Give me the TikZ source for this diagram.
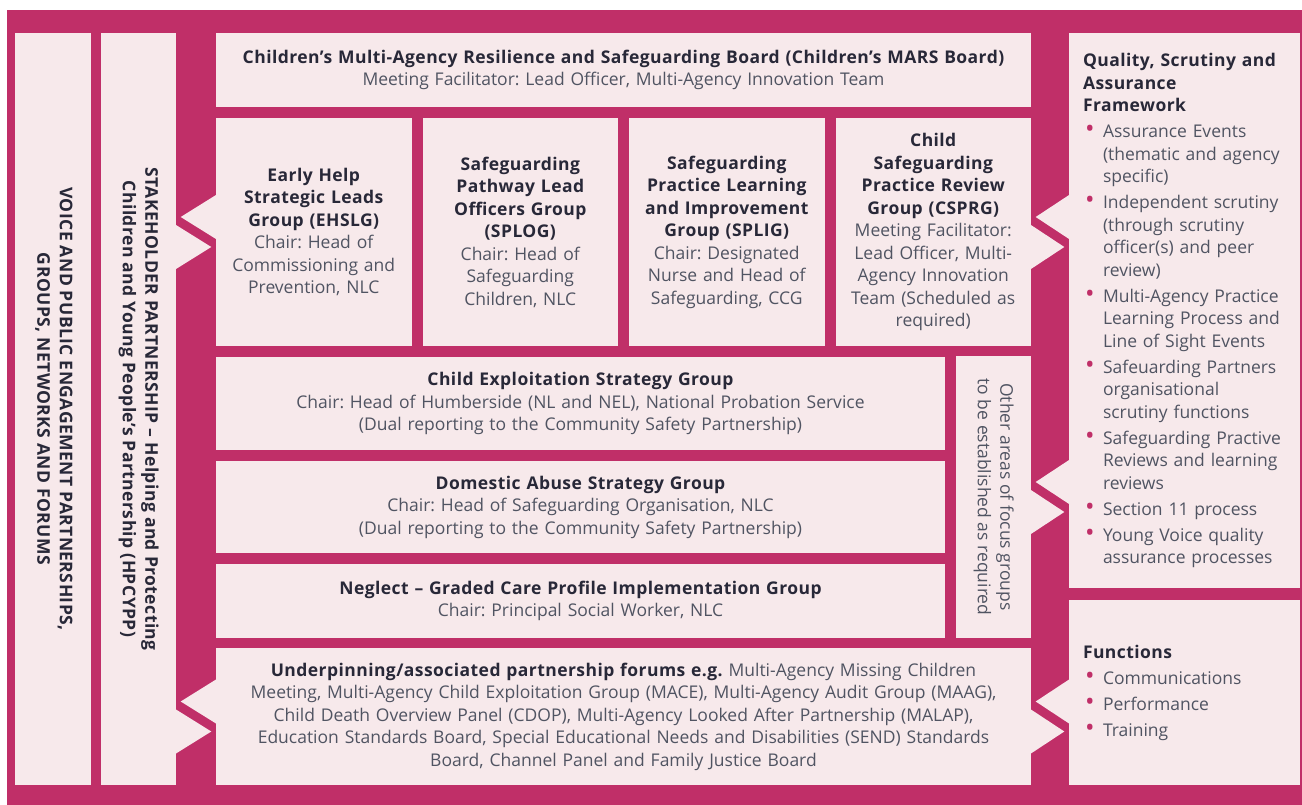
\documentclass[tikz,border=0pt]{standalone}
\usepackage{fontspec}
\setmainfont{Open Sans}[BoldFeatures={LetterSpace=2.5}]
\usepackage{graphicx}
\usetikzlibrary{calc}
\setlength\parindent{0pt}
\frenchspacing
\definecolor{mars}{RGB}{192,47,104}
\definecolor{boxfill}{RGB}{247,233,235}
\definecolor{txtdark}{RGB}{40,40,56}
\definecolor{txtgrey}{RGB}{80,84,98}
\newcommand\hd[1]{{\bfseries\color{txtdark}#1}}
\newcommand\qitem{\par\vspace{3.5pt}\hangindent=20pt\hangafter=1\noindent\makebox[20pt][l]{\hspace{2pt}\textcolor{mars}{\scalebox{1.45}{\textbullet}}}}
\newcommand\tabpair[3]{%
\fill[boxfill] ($(#2.west |- #3.center)+(1,-37.5)$) -- ($(#1.east |- #3.center)+(4.5,-15)$) -- ($(#2.west |- #3.center)+(1,7.5)$) -- cycle;
\fill[boxfill] ($(#1.east |- #3.center)+(-1,-7.5)$) -- ($(#2.west |- #3.center)+(-4.5,15)$) -- ($(#1.east |- #3.center)+(-1,37.5)$) -- cycle;}
\tikzset{box/.style={fill=boxfill, inner sep=0pt, text=txtgrey, align=center, font=\fontsize{17.5}{22.5}\selectfont}}
\begin{document}
\begin{tikzpicture}[x=1pt, y=-1pt]
\useasboundingbox (0,0) rectangle (1302,805);
\fill[mars] (7,10) rectangle (1302,805);
\node[box, minimum width=76pt, minimum height=752pt] (voice) at (53,409) {\rotatebox{-90}{\bfseries\color{txtdark}\begin{tabular}{@{}c@{}}VOICE AND PUBLIC ENGAGEMENT PARTNERSHIPS,\\GROUPS, NETWORKS AND FORUMS\end{tabular}}};
\node[box, minimum width=75pt, minimum height=752pt] (stake) at (138.5,409) {\rotatebox{-90}{\bfseries\color{txtdark}\begin{tabular}{@{}c@{}}STAKEHOLDER PARTNERSHIP – Helping and Protecting\\Children and Young People’s Partnership (HPCYPP)\end{tabular}}};
\node[box, text width=815pt, minimum height=74pt] (mars) at (623.5,70) {\hd{Children’s Multi-Agency Resilience and Safeguarding Board (Children’s MARS Board)}\\Meeting Facilitator: Lead Officer, Multi-Agency Innovation Team};
\node[box, text width=195.5pt, minimum height=228pt] (ehslg) at (313.75,232) {\hd{Early Help\\Strategic Leads\\Group (EHSLG)}\\Chair: Head of\\Commissioning and\\Prevention, NLC};
\node[box, text width=195.5pt, minimum height=228pt] (splog) at (520.25,232) {\hd{Safeguarding\\Pathway Lead\\Officers Group\\(SPLOG)}\\Chair: Head of\\Safeguarding\\Children, NLC};
\node[box, text width=195.5pt, minimum height=228pt] (splig) at (726.75,232) {\hd{Safeguarding\\Practice Learning\\and Improvement\\Group (SPLIG)}\\Chair: Designated\\Nurse and Head of\\Safeguarding, CCG};
\node[box, text width=195.5pt, minimum height=228pt] (csprg) at (933.25,232) {\hd{Child\\Safeguarding\\Practice Review\\Group (CSPRG)}\\Meeting Facilitator:\\Lead Officer, Multi-\\Agency Innovation\\Team (Scheduled as\\required)};
\node[box, text width=729pt, minimum height=93pt] (cesg) at (580.5,403.5) {\hd{Child Exploitation Strategy Group}\\Chair: Head of Humberside (NL and NEL), National Probation Service\\(Dual reporting to the Community Safety Partnership)};
\node[box, text width=729pt, minimum height=92pt] (dasg) at (580.5,507) {\hd{Domestic Abuse Strategy Group}\\Chair: Head of Safeguarding Organisation, NLC\\(Dual reporting to the Community Safety Partnership)};
\node[box, text width=729pt, minimum height=74pt] (neglect) at (580.5,601) {\hd{Neglect – Graded Care Profile Implementation Group}\\Chair: Principal Social Worker, NLC};
\node[box, minimum width=75pt, minimum height=282pt] (other) at (993.5,497) {\rotatebox{-90}{\begin{tabular}{@{}c@{}}Other areas of focus groups\\to be established as required\end{tabular}}};
\node[box, text width=815pt, minimum height=137pt] (forums) at (623.5,716.5) {\hd{Underpinning/associated partnership forums e.g.} Multi-Agency Missing Children\\Meeting, Multi-Agency Child Exploitation Group (MACE), Multi-Agency Audit Group (MAAG),\\Child Death Overview Panel (CDOP), Multi-Agency Looked After Partnership (MALAP),\\Education Standards Board, Special Educational Needs and Disabilities (SEND) Standards\\Board, Channel Panel and Family Justice Board};
\node[box, align=left, text width=212pt, inner xsep=14pt, minimum height=555pt] (qsaf) at (1189,310.5) {\hd{Quality, Scrutiny and\\Assurance\\Framework}
\qitem Assurance Events\newline(thematic and agency\newline specific)
\qitem Independent scrutiny\newline(through scrutiny\newline officer(s) and peer\newline review)
\qitem Multi-Agency Practice\newline Learning Process and\newline Line of Sight Events
\qitem Safeuarding Partners\newline organisational\newline scrutiny functions
\qitem Safeguarding Practive\newline Reviews and learning\newline reviews
\qitem Section 11 process
\qitem Young Voice quality\newline assurance processes\par};
\node[box, align=left, text width=212pt, inner xsep=14pt, minimum height=185pt] (functions) at (1189,692.5) {\hd{Functions}
\qitem Communications
\qitem Performance
\qitem Training\par};
\fill[mars] (1300,10) rectangle (1302,805);
\tabpair{stake}{ehslg}{ehslg}
\tabpair{stake}{forums}{forums}
\tabpair{csprg}{qsaf}{csprg}
\tabpair{other}{qsaf}{other}
\tabpair{forums}{functions}{forums}
\end{tikzpicture}
\end{document}
